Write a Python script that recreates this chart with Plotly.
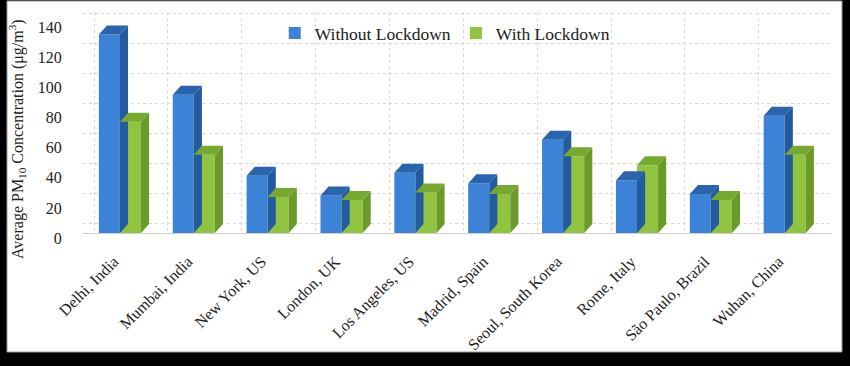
import plotly.graph_objects as go

cities = ["Delhi, India", "Mumbai, India", "New York, US", "London, UK", "Los Angeles, US",
          "Madrid, Spain", "Seoul, South Korea", "Rome, Italy", "São Paulo, Brazil", "Wuhan, China"]
without_lockdown = [132, 92, 38, 25, 40, 33, 62, 35, 26, 78]
with_lockdown = [74, 52, 24, 22, 27, 26, 51, 45, 22, 52]
y_ticks = [0, 20, 40, 60, 80, 100, 120, 140]

W = 850
H = 366
ML, MR, MT, MB = 83, 18, 12, 133
PW = W - ML - MR
PH = H - MT - MB

BW = 0.285   # bar width in category units
DX = 0.11    # depth offset in x (category units)
DY = 6.0     # depth offset in y (value units)

series = [
    ("Without Lockdown", without_lockdown, -BW, "#3c82d6", "#2a63ae", "#245a9e"),
    ("With Lockdown", with_lockdown, 0.0, "#90c440", "#77a82f", "#6b9a2a"),
]

fig = go.Figure()
idx = list(range(len(cities)))

for name, vals, off, front, top, side in series:
    sx, sy = [], []
    tx, ty = [], []
    for i, v in zip(idx, vals):
        x0 = i + off
        x1 = x0 + BW
        sx += [x1, x1 + DX, x1 + DX, x1, x1, None]
        sy += [0, DY, v + DY, v, 0, None]
        tx += [x0, x1, x1 + DX, x0 + DX, x0, None]
        ty += [v, v, v + DY, v + DY, v, None]
    fig.add_trace(go.Scatter(x=sx, y=sy, fill="toself", fillcolor=side, mode="lines",
                             line=dict(width=0, color=side), hoverinfo="skip", showlegend=False))
    fig.add_trace(go.Scatter(x=tx, y=ty, fill="toself", fillcolor=top, mode="lines",
                             line=dict(width=0, color=top), hoverinfo="skip", showlegend=False))
    fig.add_trace(go.Bar(x=idx, y=vals, name=name, offset=off, width=BW,
                         marker=dict(color=front, line=dict(width=0))))

fig.add_trace(go.Scatter(x=[0], y=[0], xaxis="x2", yaxis="y2", mode="markers",
                         marker=dict(opacity=0), showlegend=False, hoverinfo="skip"))

shift = 0.149
fig.update_layout(
    width=W, height=H,
    margin=dict(l=ML, r=MR, t=MT, b=MB, autoexpand=False),
    paper_bgcolor="#000000",
    plot_bgcolor="rgba(0,0,0,0)",
    font=dict(family="Liberation Serif", color="#222222", size=15),
    barmode="overlay",
    xaxis=dict(range=[-0.5, 9.64], tickmode="array", tickvals=idx, ticktext=cities,
               tickangle=-45, showgrid=False, zeroline=False, showline=True,
               linecolor="#d0d0d0", linewidth=1, ticks="outside", ticklen=12,
               tickcolor="rgba(0,0,0,0)", tickfont=dict(size=16, color="#222222"),
               ticklabelshift=-6, automargin=False),
    yaxis=dict(range=[0, 147], tickmode="array", tickvals=y_ticks, showgrid=False,
               zeroline=False, ticks="outside", ticklen=17, tickcolor="rgba(0,0,0,0)",
               ticklabelshift=5, tickfont=dict(size=16, color="#222222"),
               automargin=False),
    xaxis2=dict(overlaying="x", range=[-0.5 - shift, 9.64 - shift], tickmode="array",
                tickvals=[k - 0.5 for k in range(11)], showticklabels=False,
                showgrid=True, gridcolor="#d9d9d9", griddash="dot", gridwidth=1,
                zeroline=False, side="top", automargin=False),
    yaxis2=dict(overlaying="y", range=[-DY, 147 - DY], tickmode="array", tickvals=y_ticks,
                showticklabels=False, showgrid=True, gridcolor="#d9d9d9", griddash="dot",
                gridwidth=1, zeroline=False, side="right", automargin=False),
    legend=dict(orientation="h", x=0.256, xanchor="left", y=(H - MB - 33) / PH,
                yanchor="middle", font=dict(size=17.5, color="#222222"),
                bgcolor="rgba(0,0,0,0)", traceorder="normal"),
    showlegend=True,
)


def px_x(p):
    return (p - ML) / PW


def px_y(p):
    return (H - MB - p) / PH


fig.add_annotation(text="Average PM<sub>10</sub> Concentration (μg/m<sup>3</sup>)",
                   textangle=-90, xref="paper", yref="paper", x=px_x(17), y=px_y(139),
                   xanchor="center", yanchor="middle", showarrow=False,
                   font=dict(size=16, color="#222222"))

fig.add_shape(type="rect", xref="paper", yref="paper",
              x0=px_x(7), x1=px_x(842), y0=px_y(352), y1=px_y(1),
              fillcolor="#ffffff", line=dict(color="#9a9a9a", width=1), layer="below")

fig.write_html("out.html",
               config={"displayModeBar": False},
               post_script="document.body.style.margin='0px';document.body.style.overflow='hidden';")
